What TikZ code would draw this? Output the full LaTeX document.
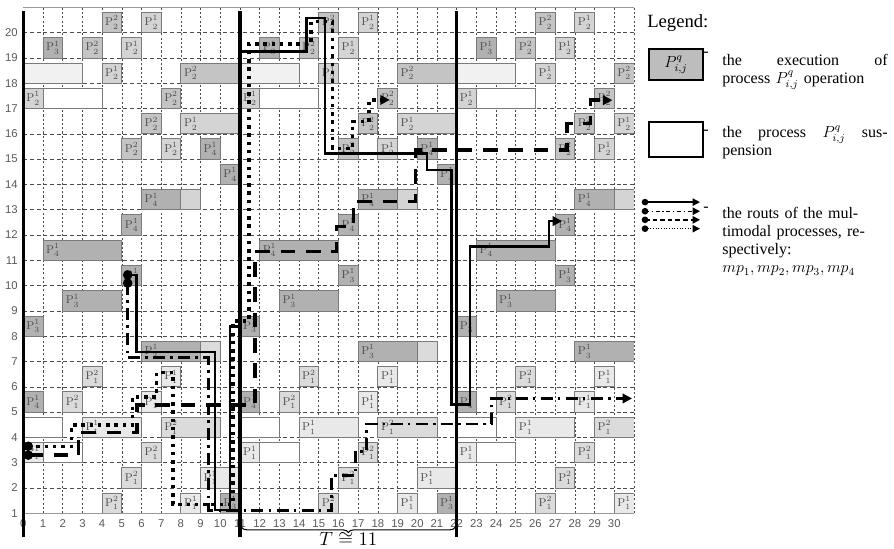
\documentclass[tikz,border=0pt]{standalone}
\usepackage{fontspec}
\usetikzlibrary{arrows.meta,decorations.pathreplacing}
\newfontfamily\lgdfont{Liberation Serif}
\newfontfamily\axfont{Liberation Sans}
\definecolor{schDark}{HTML}{B1B1B1}
\definecolor{schMid}{HTML}{C4C4C4}
\definecolor{schLight}{HTML}{D4D4D4}
\definecolor{schSoft}{HTML}{DBDBDB}
\definecolor{schPale}{HTML}{E9E9E9}
\definecolor{schFaint}{HTML}{F1F1F1}
\definecolor{schEdge}{HTML}{7B7B7B}
\definecolor{schInk}{HTML}{4C4C4C}
\definecolor{schAxis}{HTML}{5A5A5A}
\definecolor{lgdGray}{HTML}{BDBDBD}
\tikzset{
  sch vgrid/.style={draw=black!70, line width=0.45pt, dash pattern=on 1.6pt off 1.6pt},
  sch hgrid/.style={draw=black!70, line width=0.45pt, dash pattern=on 3pt off 2pt},
  sch frame/.style={draw=black!40, line width=0.7pt},
  sch op/.style={draw=schEdge, line width=0.6pt},
  sch tag/.style={font=\fontsize{8.5}{9}\selectfont, text=schInk, inner sep=0pt},
  sch axis/.style={font=\axfont\fontsize{8.5}{10}\selectfont, text=schAxis, inner sep=0pt},
  sch cut/.style={draw=black, line width=2.6pt},
  mp solid/.style={draw=black, line width=1.8pt},
  mp dashdot/.style={draw=black, line width=2.2pt, dash pattern=on 9pt off 4pt on 1.8pt off 4pt},
  mp dashed/.style={draw=black, line width=2.6pt, dash pattern=on 11pt off 8pt},
  mp dotted/.style={draw=black, line width=2.6pt, dash pattern=on 2.6pt off 3.6pt},
  mp tip/.style={-{Triangle[length=7pt,width=7pt]}},
  key solid/.style={draw=black, line width=1pt},
  key dashdot/.style={draw=black, line width=1pt, dash pattern=on 3pt off 2pt on 1pt off 2pt},
  key dashed/.style={draw=black, line width=1pt, dash pattern=on 3.5pt off 2.2pt},
  key dotted/.style={draw=black, line width=0.8pt, dash pattern=on 0.8pt off 1.2pt},
  key tip/.style={-{Triangle[length=5.5pt,width=5.5pt]}},
  lgd head/.style={font=\lgdfont\fontsize{14}{16}\selectfont, inner sep=0pt},
  lgd text/.style={font=\lgdfont\fontsize{12}{13.5}\selectfont, text width=124pt, align=left, inner sep=0pt},
  lgd dash/.style={font=\lgdfont\fontsize{12}{13.5}\selectfont, inner sep=0pt},
  lgd box/.style={draw=black, line width=1pt},
}
\newcommand{\opname}[2]{$\mathrm{P}^{\raise0.7pt\hbox{$\scriptstyle #1$}}_{\lower0.7pt\hbox{$\scriptstyle #2$}}$}
\newcommand{\opbox}[6]{%
  \pgfmathtruncatemacro\opcol{#1}%
  \ifnum\opcol>30 \else\ifnum\opcol<0 \else
  \draw[sch op, fill=#4] (\opcol,#2) rectangle ++(#3,0.8);
  \node[sch tag] (op-\opcol-#2) at (\opcol+0.5,#2+0.4) {\opname{#5}{#6}};
  \fi\fi}

\begin{document}
\begin{tikzpicture}[x=0.5193cm,y=0.6669cm]
  \useasboundingbox (-1.183,-0.411) rectangle (44.2,21.29);
  \foreach \i in {1,...,31} \draw[sch vgrid] (\i,1) -- (\i,21);
  \foreach \j in {2,...,20} \draw[sch hgrid] (0,\j) -- (31,\j);
  \begin{scope}
    \clip (0,1) rectangle (31,21);
    \foreach \o in {-11,0,11,22} {
      \opbox{\o+4}{20}{1}{schMid}{2}{2}
      \opbox{\o+6}{20}{1}{schLight}{1}{2}
      \opbox{\o+1}{19}{1}{schDark}{1}{3}
      \opbox{\o+3}{19}{1}{schMid}{2}{2}
      \opbox{\o+5}{19}{1}{schLight}{1}{2}
      \opbox{\o+4}{18}{1}{schLight}{1}{2}
      \opbox{\o+8}{18}{3}{schMid}{2}{2}
      \draw[sch op, fill=schFaint] (\o+11,18) rectangle ++(3,0.8);
      \opbox{\o}{17}{1}{schLight}{1}{2}
      \draw[sch op, fill=white] (\o+1,17) rectangle ++(3,0.8);
      \opbox{\o+7}{17}{1}{schMid}{2}{2}
      \opbox{\o+6}{16}{1}{schMid}{2}{2}
      \opbox{\o+8}{16}{3}{schLight}{1}{2}
      \opbox{\o+5}{15}{1}{schMid}{2}{2}
      \opbox{\o+7}{15}{1}{schLight}{1}{2}
      \opbox{\o+9}{15}{1}{schDark}{1}{4}
      \opbox{\o+10}{14}{1}{schDark}{1}{4}
      \opbox{\o+6}{13}{2}{schDark}{1}{4}
      \draw[sch op, fill=schLight] (\o+8,13) rectangle ++(1,0.8);
      \opbox{\o+5}{12}{1}{schDark}{1}{4}
      \opbox{\o+1}{11}{4}{schDark}{1}{4}
      \opbox{\o+5}{10}{1}{schDark}{1}{3}
      \opbox{\o+2}{9}{3}{schDark}{1}{3}
      \opbox{\o}{8}{1}{schDark}{1}{3}
      \opbox{\o+6}{7}{3}{schDark}{1}{3}
      \draw[sch op, fill=schSoft] (\o+9,7) rectangle ++(1,0.8);
      \opbox{\o+3}{6}{1}{schSoft}{2}{1}
      \opbox{\o+7}{6}{1}{schPale}{1}{1}
      \opbox{\o}{5}{1}{schDark}{1}{4}
      \opbox{\o+2}{5}{1}{schSoft}{2}{1}
      \opbox{\o+6}{5}{1}{schPale}{1}{1}
      \draw[sch op, fill=white] (\o,4) rectangle ++(2,0.8);
      \opbox{\o+3}{4}{3}{schPale}{1}{1}
      \opbox{\o+7}{4}{3}{schSoft}{2}{1}
      \opbox{\o}{3}{1}{schPale}{1}{1}
      \draw[sch op, fill=white] (\o+1,3) rectangle ++(2,0.8);
      \opbox{\o+6}{3}{1}{schSoft}{2}{1}
      \opbox{\o+5}{2}{1}{schSoft}{2}{1}
      \opbox{\o+9}{2}{2}{schPale}{1}{1}
      \opbox{\o+4}{1}{1}{schSoft}{2}{1}
      \opbox{\o+8}{1}{1}{schPale}{1}{1}
      \opbox{\o+10}{1}{1}{schDark}{1}{3}
    }
  \end{scope}
  \draw[sch frame] (0,21) -- (31,21);
  \draw[sch frame] (0,1) -- (31,1);
  \foreach \i in {0,...,30} \node[sch axis] (xt\i) at (\i,0.6) {\i};
  \foreach \j in {1,...,20} \node[sch axis, anchor=east] (yt\j) at (-0.27,\j) {\j};
  \draw[sch cut] (0,0.05) -- (0,20.85);
  \draw[sch cut] (11,0.05) -- (11,20.85);
  \draw[sch cut] (22,0.05) -- (22,20.85);
  \draw[decorate, decoration={brace, amplitude=4pt, mirror}, line width=0.8pt] (11.08,0.45) -- (21.92,0.45);
  \node[font=\fontsize{15}{17}\selectfont, inner sep=0pt] (tper) at (16.5,-0.02) {$T\cong 11$};

  \coordinate (mp1s) at (5.3,10.42);
  \coordinate (mp2s) at (5.3,10.1);
  \coordinate (mp3s) at (0.25,3.3);
  \coordinate (mp4s) at (0.25,3.65);
  \coordinate (mp1e) at (27.35,12.55);
  \coordinate (mp2e) at (30.9,5.54);
  \coordinate (mp3e) at (29.9,17.33);
  \coordinate (mp4e) at (18.6,17.34);
  \draw[mp solid, mp tip] (mp1s) -- (5.75,10.42) -- (5.75,7.38) -- (9.73,7.38) -- (9.73,1.12)
    -- (10.48,1.12) -- (10.48,8.38) -- (11.05,8.38) -- (11.05,19.25) -- (14.38,19.25)
    -- (14.38,20.57) -- (15.3,20.57) -- (15.3,15.23) -- (20.5,15.23) -- (20.5,14.57)
    -- (21.74,14.57) -- (21.74,5.3) -- (22.67,5.3) -- (22.67,11.54) -- (26.7,11.54)
    -- (26.7,12.55) -- (mp1e);
  \draw[mp dashdot, mp tip] (mp2s) -- (5.3,7.14) -- (9.39,7.14) -- (9.39,1.12) -- (15.65,1.12)
    -- (15.65,2.5) -- (16.84,2.5) -- (16.84,3.45) -- (17.43,3.45) -- (17.43,4.53)
    -- (23.78,4.53) -- (23.78,5.54) -- (mp2e);
  \draw[mp dashed, mp tip] (mp3s) -- (2.8,3.3) -- (2.8,4.2) -- (5.78,4.2) -- (5.78,5.28)
    -- (11.76,5.28) -- (11.76,11.34) -- (15.9,11.34) -- (15.9,12.33) -- (16.75,12.33)
    -- (16.75,13.32) -- (19.9,13.32) -- (19.9,15.36) -- (27.6,15.36) -- (27.6,16.41)
    -- (28.8,16.41) -- (28.8,17.33) -- (mp3e);
  \draw[mp dotted, mp tip] (mp4s) -- (2.46,3.65) -- (2.46,4.49) -- (5.55,4.49) -- (5.55,5.6)
    -- (6.77,5.6) -- (6.77,6.56) -- (7.6,6.56) -- (7.6,1.35) -- (10.65,1.35) -- (10.65,8.6)
    -- (11.45,8.6) -- (11.45,19.55) -- (14.6,19.55) -- (14.6,20.43) -- (15.7,20.43)
    -- (15.7,15.43) -- (16.72,15.43) -- (16.72,16.48) -- (17.55,16.48) -- (17.55,17.34)
    -- (mp4e);
  \fill (mp1s) circle (3.6pt);
  \fill (mp2s) circle (3.6pt);
  \fill (mp3s) circle (3.6pt);
  \fill (mp4s) circle (3.6pt);

  \node[lgd head, anchor=base west] (lgdhead) at (31.66,20.2) {Legend:};
  \draw[lgd box, fill=lgdGray] (31.76,18.13) rectangle (34.5,19.35);
  \node[font=\fontsize{12}{14}\selectfont, inner sep=0pt] (lgdop) at (33.13,18.74) {$P^q_{i,j}$};
  \node[lgd dash] (dsh1) at (34.66,19.15) {-};
  \node[lgd text, anchor=base west] (lgdexec) at (35.47,18.7) {the\hfill execution\hfill of\\process $P^q_{i,j}$ operation};
  \draw[lgd box, fill=white] (31.76,15.08) rectangle (34.5,16.47);
  \node[lgd dash] (dsh2) at (34.66,16.05) {-};
  \node[lgd text, anchor=base west] (lgdsusp) at (35.47,15.85) {the\hfill process\hfill $P^q_{i,j}$\hfill sus-\\pension};
  \coordinate (k1a) at (31.56,13.30);
  \coordinate (k1b) at (34.35,13.30);
  \coordinate (k2a) at (31.56,12.94);
  \coordinate (k2b) at (34.35,12.94);
  \coordinate (k3a) at (31.56,12.60);
  \coordinate (k3b) at (34.35,12.60);
  \coordinate (k4a) at (31.56,12.25);
  \coordinate (k4b) at (34.35,12.25);
  \draw[key solid, key tip] (k1a) -- (k1b);
  \draw[key dashdot, key tip] (k2a) -- (k2b);
  \draw[key dashed, key tip] (k3a) -- (k3b);
  \draw[key dotted, key tip] (k4a) -- (k4b);
  \foreach \k in {k1a,k2a,k3a,k4a} \fill (\k) circle (2.5pt);
  \node[lgd dash] (dsh3) at (34.66,13.0) {-};
  \node[lgd text, anchor=base west] (lgdrout) at (35.47,12.64) {the routs of the mul-\\timodal processes, re-\\spectively:\\$mp_1, mp_2, mp_3, mp_4$};
\end{tikzpicture}
\end{document}
